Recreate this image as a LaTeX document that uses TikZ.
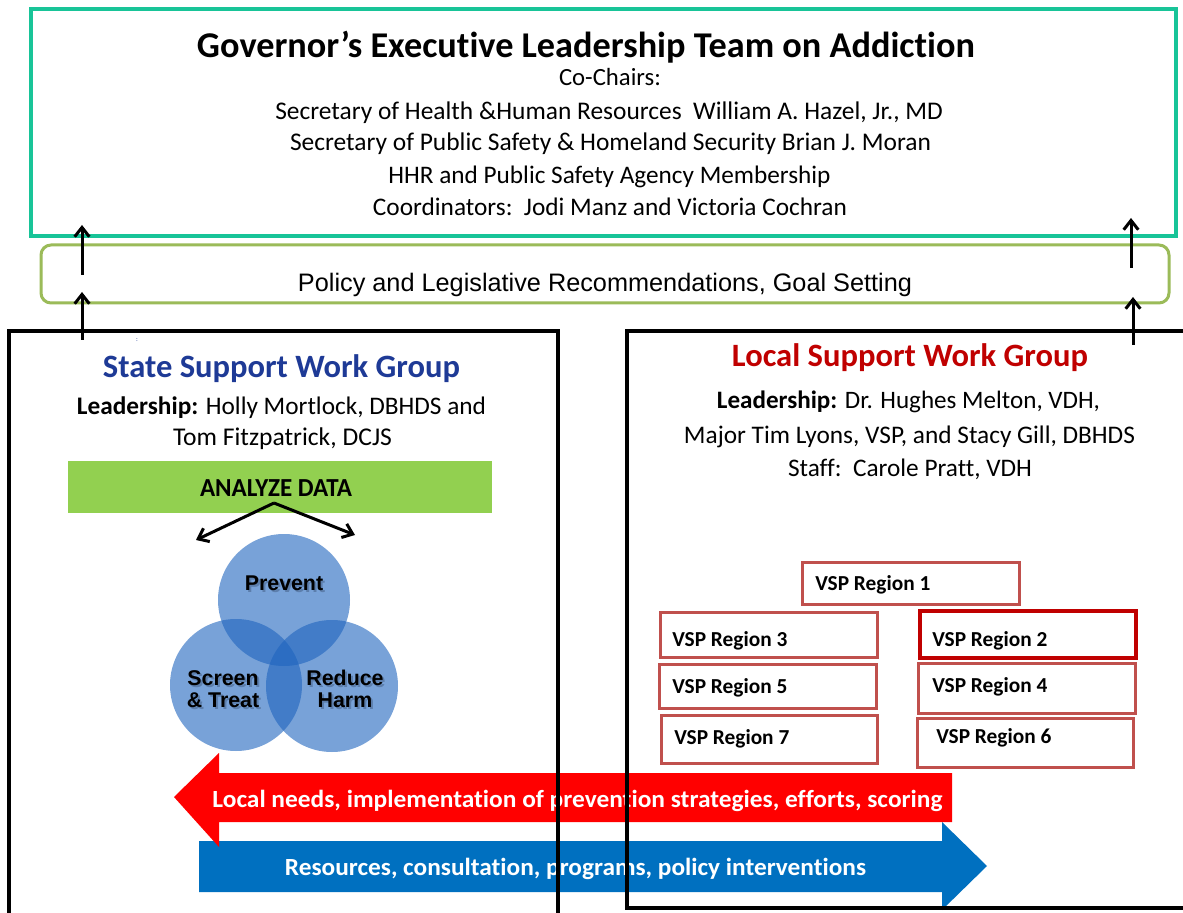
\documentclass[tikz,border=0pt]{standalone}
\usepackage{fontspec}
\setmainfont{Carlito}[Ligatures=NoCommon]
\newfontfamily\arialf{Liberation Sans}[Ligatures=NoCommon]
\usetikzlibrary{arrows.meta,fit,calc}
\definecolor{tealc}{RGB}{24,196,152}
\definecolor{olivec}{RGB}{155,187,89}
\definecolor{greenc}{RGB}{146,208,80}
\definecolor{stateblue}{RGB}{30,58,150}
\definecolor{localred}{RGB}{192,0,0}
\definecolor{vspc}{RGB}{192,80,77}
\definecolor{vsptwo}{RGB}{192,0,0}
\definecolor{arrred}{RGB}{255,0,0}
\definecolor{arrblue}{RGB}{0,112,192}
\definecolor{circc}{RGB}{30,100,190}
\definecolor{shadowc}{RGB}{40,60,90}
\begin{document}
\begin{tikzpicture}[x=0.75pt,y=-0.75pt,
  txt/.style={inner sep=0pt, anchor=base},
  regfont/.style={font=\fontsize{19}{23}\selectfont},
  blackbox/.style={draw=black, line width=3pt, inner sep=0pt},
  topbox/.style={draw=tealc, line width=3pt, inner sep=0pt},
  polbox/.style={draw=olivec, line width=2.25pt, rounded corners=7.5pt, inner sep=0pt},
  greenbar/.style={fill=greenc, inner sep=0pt},
  vspbox/.style={draw=vspc, line width=2.25pt, inner sep=0pt},
  vspboxtwo/.style={draw=vsptwo, line width=3pt, inner sep=0pt},
  vsptext/.style={inner sep=0pt, anchor=base west, font=\bfseries\fontsize{16}{19}\selectfont},
  circ/.style={circle, minimum size=99pt, inner sep=0pt, fill=circc, fill opacity=0.6, draw=none},
  circtext/.style={inner sep=0pt, align=center, font=\arialf\bfseries\fontsize{16}{16.5}\selectfont},
  circshadow/.style={circtext, text=shadowc, text opacity=0.35},
  uparr/.style={line width=2.25pt, -{Straight Barb[length=7pt,width=11pt]}},
  arrtext/.style={inner sep=0pt, anchor=base, text=white, font=\bfseries\fontsize{18.5}{22}\selectfont}
]
\useasboundingbox (0,0) rectangle (1183,913);
\fill[white] (0,0) rectangle (1183,913);
\clip (0,0) rectangle (1183,913);

% top box
\node[topbox, fit={(31,9)(1176,236)}] (gov) {};
\node[txt, font=\bfseries\fontsize{27}{32}\selectfont] (title) at (586,58) {\resizebox{583.5pt}{!}{Governor’s Executive Leadership Team on Addiction}};
\node[txt, regfont] (cochairs) at (610,85.5) {\resizebox{76.5pt}{!}{Co-Chairs:}};
\node[txt, regfont] (line1) at (609,120) {\resizebox{500.6pt}{!}{Secretary of Health \&Human Resources\ \ William A. Hazel, Jr., MD}};
\node[txt, regfont] (line2) at (610.5,151) {\resizebox{480.75pt}{!}{Secretary of Public Safety \& Homeland Security Brian J. Moran}};
\node[txt, regfont] (line3) at (609.5,184) {\resizebox{331.5pt}{!}{HHR and Public Safety Agency Membership}};
\node[txt, regfont] (line4) at (610,216) {\resizebox{355.5pt}{!}{Coordinators:\ \ Jodi Manz and Victoria Cochran}};

% policy box
\node[polbox, fit={(41,245)(1169,303)}] (policy) {};
\node[txt, font=\arialf\fontsize{19}{23}\selectfont] (policytext) at (605,292) {\resizebox{460.5pt}{!}{Policy and Legislative Recommendations, Goal Setting}};

% vertical arrows
\coordinate (lb) at (82,340); \coordinate (lm) at (82,292);
\coordinate (lm2) at (82,275); \coordinate (lt) at (82,225);
\coordinate (rb) at (1133,345); \coordinate (rm) at (1133,297);
\coordinate (rm2) at (1131,268); \coordinate (rt) at (1131,218);
\draw[uparr] (lb) -- (lm);
\draw[uparr] (lm2) -- (lt);
\draw[uparr] (rb) -- (rm);
\draw[uparr] (rm2) -- (rt);

% tiny mark
\node[inner sep=0pt, text=stateblue, font=\fontsize{5}{5}\selectfont] (mark) at (137,340) {:};

% state support group
\node[txt, font=\bfseries\fontsize{23}{27}\selectfont, text=stateblue] (statetitle) at (281.5,377.5) {\resizebox{267.75pt}{!}{State Support Work Group}};
\node[txt, regfont] (stateL1) at (281.5,415) {\resizebox{306.75pt}{!}{\textbf{Leadership:} Holly Mortlock, DBHDS and}};
\node[txt, regfont] (stateL2) at (282.5,445) {\resizebox{164.25pt}{!}{Tom Fitzpatrick, DCJS}};

\node[greenbar, fit={(68,461)(492,513)}] (analyze) {};
\node[txt, font=\bfseries\fontsize{19.5}{23}\selectfont] (analyzetext) at (276,496) {\resizebox{114pt}{\height}{ANALYZE DATA}};
\coordinate (apex) at (274,503);
\coordinate (aL) at (196,540);
\coordinate (aR) at (355,535);
\draw[uparr] (apex) -- (aL);
\draw[uparr] (apex) -- (aR);

% venn
\node[circ] (prevent) at (284,600) {};
\node[circ] (screen) at (236,685) {};
\node[circ] (reduce) at (332,686) {};
\node[circshadow, anchor=base] (preventshadow) at (286,592.5) {Prevent};
\node[circshadow] (screenshadow) at (225,691) {Screen\\\& Treat};
\node[circshadow] (reduceshadow) at (347,691) {Reduce\\Harm};
\node[circtext, anchor=base] (preventtext) at (284,590.5) {Prevent};
\node[circtext] (screentext) at (223,689) {Screen\\\& Treat};
\node[circtext] (reducetext) at (345,689) {Reduce\\Harm};

% local support group
\node[txt, font=\bfseries\fontsize{23}{27}\selectfont, text=localred] (localtitle) at (910,366.5) {\resizebox{267pt}{!}{Local Support Work Group}};
\node[txt, regfont] (localL1) at (908.5,408) {\resizebox{287.25pt}{!}{\textbf{Leadership:} Dr. Hughes Melton, VDH,}};
\node[txt, regfont] (localL2) at (909.5,443) {\resizebox{338.25pt}{!}{Major Tim Lyons, VSP, and Stacy Gill, DBHDS}};
\node[txt, regfont] (localL3) at (910,476) {\resizebox{183pt}{!}{Staff:\ \ Carole Pratt, VDH}};

% VSP regions
\node[vspbox, fit={(802,562)(1019,604)}] (r1) {};
\node[vspbox, fit={(660,612)(877,657)}] (r3) {};
\node[vspboxtwo, fit={(920,611)(1136,658)}] (r2) {};
\node[vspbox, fit={(659,664)(876,708)}] (r5) {};
\node[vspbox, fit={(918,663)(1135,713)}] (r4) {};
\node[vspbox, fit={(661,715)(877,763)}] (r7) {};
\node[vspbox, fit={(917,718)(1133,767)}] (r6) {};
\node[vsptext] (t1) at (815,590) {VSP Region 1};
\node[vsptext] (t3) at (672,646) {VSP Region 3};
\node[vsptext] (t2) at (932,646) {VSP Region 2};
\node[vsptext] (t5) at (672,693) {VSP Region 5};
\node[vsptext] (t4) at (932,692) {VSP Region 4};
\node[vsptext] (t7) at (674,744) {VSP Region 7};
\node[vsptext] (t6) at (936,743) {VSP Region 6};

% big arrows
\fill[arrblue] (199,841) -- (942,841) -- (942,822) -- (987,866) -- (942,910) -- (942,892) -- (199,892) -- cycle;
\fill[arrred] (174,797) -- (219,753) -- (219,773) -- (952,773) -- (952,822) -- (219,822) -- (219,847) -- cycle;
\node[arrtext] (redtext) at (577.5,807.5) {\resizebox{547.5pt}{\height}{Local needs, implementation of prevention strategies, efforts, scoring}};
\node[arrtext] (bluetext) at (575.5,875) {\resizebox{435.75pt}{\height}{Resources, consultation, programs, policy interventions}};

% group boxes (on top)
\node[blackbox, fit={(9,331)(558,960)}] (state) {};
\node[blackbox, fit={(627,331)(1220,908)}] (local) {};
\end{tikzpicture}
\end{document}
